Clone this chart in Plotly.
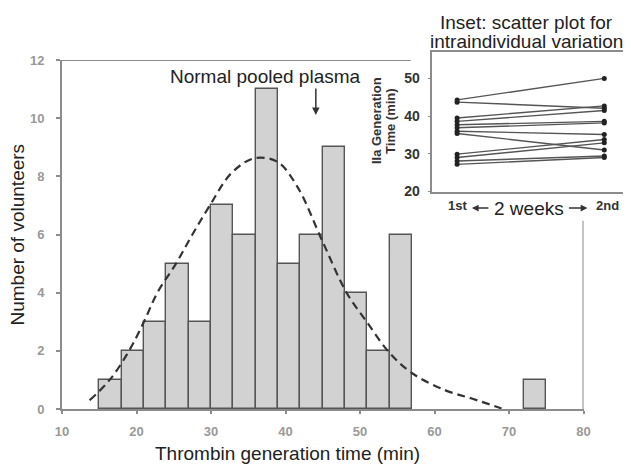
import plotly.graph_objects as go

# ---------------- data ----------------
bin_start = [15, 18, 21, 24, 27, 30, 33, 36, 39, 42, 45, 48, 51, 54, 72]
counts = [1, 2, 3, 5, 3, 7, 6, 11, 5, 6, 9, 4, 2, 6, 1]
BIN_W = 3

curve_x = [13.7, 16.4, 19.0, 21.0, 22.8, 25.3, 27.5, 29.85, 32.7, 35.8, 38.9,
           41.6, 44.9, 48.2, 50.9, 53.9, 57.0, 61.4, 65.0, 69.0]
curve_y = [0.3, 1.0, 2.0, 3.0, 4.0, 5.0, 6.0, 7.0, 8.1, 8.62, 8.5,
           7.64, 5.8, 4.0, 3.0, 1.95, 1.23, 0.65, 0.36, 0.02]

x_ticks = [10, 20, 30, 40, 50, 60, 70, 80]
y_ticks = [0, 2, 4, 6, 8, 10, 12]

first_visit = [44.3, 43.7, 39.5, 38.6, 37.7, 36.9, 36.0, 35.4, 29.9, 29.0, 28.1, 27.2]
second_visit = [50.0, 42.1, 42.7, 41.5, 38.6, 38.2, 35.1, 31.0, 33.8, 32.9, 29.4, 29.0]
inset_y_ticks = [20, 30, 40, 50]

# ---------------- geometry helpers ----------------
# the page body has an 8px margin, so the figure is offset by (8, 8) in the window
OFF = 8
W, H = 623, 457
ML, MR, MT, MB = 54, 0, 44, 56
PW = W - ML - MR
PH = H - MT - MB


def px(xs):
    """window x pixel -> paper fraction"""
    return (xs - OFF - ML) / PW


def py(ys):
    """window y pixel -> paper fraction"""
    return (H - MB - (ys - OFF)) / PH


FONT = "Liberation Sans, Arial, sans-serif"
BIG = 19

fig = go.Figure()

bar_centers = [b + BIN_W / 2 for b in bin_start]
fig.add_trace(go.Bar(
    x=bar_centers, y=counts, width=[BIN_W] * len(counts),
    marker=dict(color="#d2d2d2", line=dict(color="#555555", width=1.4)),
    xaxis="x", yaxis="y", showlegend=False, hoverinfo="skip"))

fig.add_trace(go.Scatter(
    x=curve_x, y=curve_y, mode="lines",
    line=dict(color="#333333", width=2.2, dash="8px,5px", shape="spline"),
    xaxis="x", yaxis="y", showlegend=False, hoverinfo="skip"))

for a, b in zip(first_visit, second_visit):
    fig.add_trace(go.Scatter(
        x=[0, 1], y=[a, b], mode="lines+markers",
        line=dict(color="#555555", width=1.4),
        marker=dict(color="#222222", size=5),
        xaxis="x2", yaxis="y2", showlegend=False, hoverinfo="skip"))

main_dom_x = [0, px(590)]
main_dom_y = [0, py(60)]

fig.update_layout(
    width=W, height=H, autosize=False,
    margin=dict(l=ML, r=MR, t=MT, b=MB),
    paper_bgcolor="white", plot_bgcolor="white",
    font=dict(family=FONT, color="#222222"),
    bargap=0,
    xaxis=dict(domain=main_dom_x, range=[10, 80], tickvals=x_ticks,
               showgrid=False, zeroline=False, showline=True,
               linecolor="#8c8c8c", linewidth=2, ticks="outside", ticklen=3,
               tickcolor="#8c8c8c", tickwidth=1.5, ticklabelstandoff=6,
               tickfont=dict(size=13, color="#999999", weight="bold")),
    yaxis=dict(domain=main_dom_y, range=[0, 12], tickvals=y_ticks,
               showgrid=False, zeroline=False, showline=True,
               linecolor="#8c8c8c", linewidth=2, ticks="outside", ticklen=4,
               tickcolor="#8c8c8c", tickwidth=1.5, ticklabelstandoff=9,
               tickfont=dict(size=13, color="#999999", weight="bold")),
    xaxis2=dict(domain=[px(437), 1.0], range=[-0.168, 1.134], anchor="y2",
                showgrid=False, zeroline=False, showline=True, mirror=True,
                linecolor="#8c8c8c", linewidth=1.5, showticklabels=False,
                ticks=""),
    yaxis2=dict(domain=[py(191.5), 1.0], range=[20, 57], anchor="x2",
                tickvals=inset_y_ticks,
                showgrid=False, zeroline=False, showline=True, mirror=True,
                linecolor="#8c8c8c", linewidth=1.5, ticks="outside", ticklen=3,
                tickcolor="#8c8c8c", ticklabelstandoff=5,
                tickfont=dict(size=14, color="#333333", weight="bold")),
)

# partial frame of main plot (top and right edges)
fig.add_shape(type="line", xref="x", yref="y", x0=10, x1=56.8, y0=12, y1=12,
              line=dict(color="#8c8c8c", width=2))
fig.add_shape(type="line", xref="x", yref="y", x0=80, x1=80, y0=0, y1=6.47,
              line=dict(color="#8c8c8c", width=2))


def label(text, xs, ys, size=BIG, color="#222", angle=0):
    return dict(text=text, x=px(xs), y=py(ys), xref="paper", yref="paper",
                showarrow=False, textangle=angle, font=dict(size=size, color=color),
                xanchor="center", yanchor="middle")


def arrow(xs, ys, ax, ay, size=1.0):
    return dict(text="", x=px(xs), y=py(ys), xref="paper", yref="paper",
                showarrow=True, ax=ax, ay=ay, arrowhead=2, arrowsize=size,
                arrowwidth=1.5, arrowcolor="#333")


ann = [
    label("Normal pooled plasma", 268, 76),
    arrow(319, 115, 0, -28),
    label("Thrombin generation time (min)", 290, 453),
    label("Number of volunteers", 17, 235, angle=-90),
    label("Inset: scatter plot for", 532, 22),
    label("intraindividual variation", 532, 41),
    label("<b>IIa Generation</b>", 381, 121, size=13, color="#333", angle=-90),
    label("<b>Time (min)</b>", 395, 121, size=13, color="#333", angle=-90),
    label("<b>1st</b>", 462, 205, size=13, color="#333"),
    label("<b>2nd</b>", 614, 205, size=13, color="#333"),
    label("2 weeks", 535, 208),
    arrow(477, 208, 18, 0, 0.9),
    arrow(594, 208, -20, 0, 0.9),
]
fig.update_layout(annotations=ann)

fig.write_html("out.html", config={"displayModeBar": False})
